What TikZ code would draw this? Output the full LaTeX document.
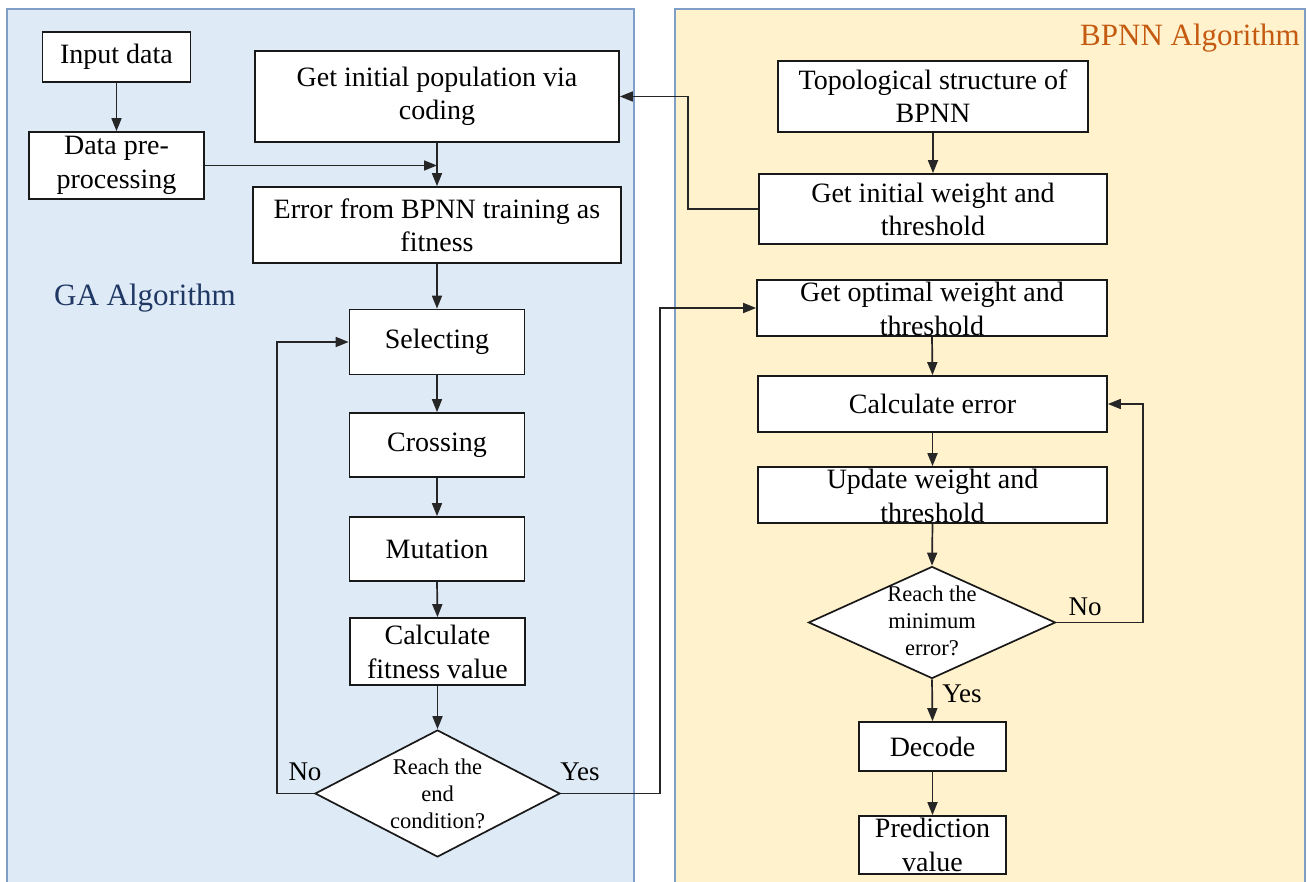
\documentclass[tikz,border=0pt]{standalone}
\usepackage{fontspec}
\setmainfont{Liberation Serif}
\usetikzlibrary{arrows.meta,shapes.geometric}
\definecolor{gafill}{HTML}{DEEAF6}
\definecolor{bpfill}{HTML}{FFF2CC}
\definecolor{panelline}{HTML}{7F9FC8}
\definecolor{gatext}{HTML}{203864}
\definecolor{bptext}{HTML}{C55A11}
\tikzset{
  box/.style={draw=black!90, fill=white, line width=1.7pt, rectangle, inner sep=0pt, align=center,
    font=\fontsize{28}{33}\selectfont},
  btxt/.style={inner sep=0pt, align=center, font=\fontsize{28}{34}\selectfont},
  dia/.style={draw=black!90, fill=white, line width=1.7pt, diamond, inner sep=0pt},
  dtxt/.style={inner sep=0pt, align=center, font=\fontsize{22.5}{27}\selectfont},
  lbl/.style={inner sep=0pt, font=\fontsize{27}{30}\selectfont},
  conn/.style={line width=1.7pt, draw=black!85},
  arr/.style={conn, -{Triangle[length=13pt,width=10pt]}},
  panel/.style={draw=panelline, line width=1.2pt},
}
\begin{document}
\begin{tikzpicture}[x=1pt,y=-1pt]
\useasboundingbox (0,0) rectangle (1307,882);
% panels
\path[panel, fill=gafill] (7,9) rectangle (634,890);
\path[panel, fill=bpfill] (675,9) rectangle (1305,890);
\node[font=\fontsize{31}{36}\selectfont, text=gatext, inner sep=0pt] (galbl) at (145,298) {GA Algorithm};
\node[font=\fontsize{31}{36}\selectfont, text=bptext, inner sep=0pt, anchor=east] (bplbl) at (1300,38) {BPNN Algorithm};

% GA side
\node[box, minimum width=148, minimum height=50] (inp) at (116.5,57) {Input data};
\node[box, minimum width=175, minimum height=67] (pre) at (116.5,165.5) {};
\node[btxt] (preT) at (pre.center) {Data pre-\\processing};
\node[box, minimum width=364, minimum height=91] (pop) at (437,96.5) {Get initial population via\\coding};
\node[box, minimum width=368, minimum height=76] (err) at (437,225) {Error from BPNN training as\\fitness};
\node[box, minimum width=175, minimum height=65] (sel) at (437,342) {Selecting};
\node[box, minimum width=175, minimum height=64] (cro) at (437,445) {Crossing};
\node[box, minimum width=175, minimum height=64] (mut) at (437,549) {Mutation};
\node[box, minimum width=175, minimum height=67] (fit) at (437.5,651.5) {};
\node[btxt] (fitT) at (fit.center) {Calculate\\fitness value};
\node[dia, minimum width=245, minimum height=127] (endd) at (437.5,793.5) {};
\node[dtxt] (enddT) at (endd.center) {Reach the\\end\\condition?};
\node[lbl] (no1) at (305,772) {No};
\node[lbl] (yes1) at (580,772) {Yes};

% BPNN side
\node[box, minimum width=310, minimum height=71] (topo) at (933,96.5) {Topological structure of\\BPNN};
\node[box, minimum width=348, minimum height=70] (iw) at (933,209) {Get initial weight and\\threshold};
\node[box, minimum width=350, minimum height=56] (opt) at (932,308) {};
\node[btxt] (optT) at (932,309) {Get optimal weight and\\threshold};
\node[box, minimum width=349, minimum height=56] (cerr) at (932.5,404) {Calculate error};
\node[box, minimum width=349, minimum height=56] (upd) at (932.5,495) {};
\node[btxt] (updT) at (932.5,496) {Update weight and\\threshold};
\node[dia, minimum width=247, minimum height=112] (mind) at (932,622.5) {};
\node[dtxt] (mindT) at (932,621) {Reach the\\minimum\\error?};
\node[lbl] (no2) at (1085,607) {No};
\node[lbl] (yes2) at (962,694) {Yes};
\node[box, minimum width=147, minimum height=49] (dec) at (932.5,746.5) {Decode};
\node[box, minimum width=147, minimum height=58] (pred) at (932.5,845) {};
\node[btxt] (predT) at (pred.center) {Prediction\\value};

% connectors GA
\draw[arr] (inp.south) -- (pre.north);
\draw[arr] (pre.east) -- (pre.east -| pop.south);
\draw[arr] (pop.south) -- (err.north);
\draw[arr] (err.south) -- (sel.north);
\draw[arr] (sel.south) -- (cro.north);
\draw[arr] (cro.south) -- (mut.north);
\draw[arr] (mut.south) -- (fit.north);
\draw[arr] (fit.south) -- (endd.north);
\coordinate (noL) at (277,793.5);
\draw[arr] (endd.west) -- (noL) |- (sel.west);
\coordinate (yesR) at (660,793.5);
\draw[arr] (endd.east) -- (yesR) |- (opt.west);

% connectors BPNN
\draw[arr] (topo.south) -- (iw.north);
\coordinate (iwL) at (688,209);
\draw[arr] (iw.west) -- (iwL) |- (pop.east);
\draw[arr] (opt.south) -- (cerr.north);
\draw[arr] (cerr.south) -- (upd.north);
\draw[arr] (upd.south) -- (mind.north);
\coordinate (noR) at (1143,622.5);
\draw[arr] (mind.east) -- (noR) |- (cerr.east);
\draw[arr] (mind.south) -- (dec.north);
\draw[arr] (dec.south) -- (pred.north);
\end{tikzpicture}
\end{document}
